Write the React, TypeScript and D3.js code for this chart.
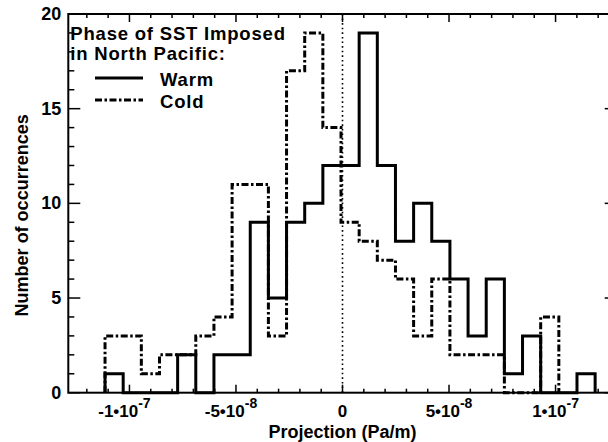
import React from "react";
import * as d3 from "d3";

// histogram counts, bins indexed from firstBin (bin 0 starts just left of zero)
const firstBin = -13;
const binOrigin = -0.07e-8;
const binWidth = 0.852e-8;
const warmCounts = [1, 0, 0, 0, 2, 0, 2, 2, 9, 5, 9, 10, 12, 12, 19, 12, 8, 10, 8, 6, 3, 6, 1, 3, 0, 0, 1];
const coldCounts = [3, 3, 1, 2, 2, 3, 4, 11, 11, 3, 17, 19, 14, 9, 8, 7, 6, 3, 6, 2, 2, 2, 0, 0, 4];

const xTicks = [-1e-7, -5e-8, 0, 5e-8, 1e-7];
const xTickBase = ["-1•10", "-5•10", "0", "5•10", "1•10"];
const xTickExp = ["-7", "-8", "", "-8", "-7"];
const yTicks = [0, 5, 10, 15, 20];

const W = 608;
const H = 442;
const left = 68.3;
const right = 616.7;
const top = 14;
const bottom = 392.7;
const font = "'Liberation Sans', Arial, Helvetica, sans-serif";

const x = d3.scaleLinear().domain([-1.287e-7, 1.287e-7]).range([left, right]);
const y = d3.scaleLinear().domain([0, 20]).range([bottom, top]);

function stepPath(counts: number[]) {
  const pts: [number, number][] = [];
  counts.forEach((c, i) => {
    const x0 = binOrigin + (firstBin + i) * binWidth;
    const x1 = x0 + binWidth;
    if (i === 0) pts.push([x0, 0]);
    pts.push([x0, c], [x1, c]);
    if (i === counts.length - 1) pts.push([x1, 0]);
  });
  return d3
    .line<[number, number]>()
    .x((d) => x(d[0]))
    .y((d) => y(d[1]))(pts) as string;
}

export default function App() {
  const xMinor = d3.range(-12, 13).map((k) => k * 1e-8);
  const yMinor = d3.range(0, 21);
  const ink = "#000";
  const dashDot = "7,2.5,2.5,2.5";

  return (
    <svg
      width={W}
      height={H}
      style={{ position: "absolute", left: 0, top: 0, background: "#fff" }}
      fontFamily={font}
    >
      {/* zero line */}
      <line x1={x(0)} x2={x(0)} y1={bottom} y2={top} stroke={ink} strokeWidth={1.6} strokeDasharray="1.6,3" />

      {/* histograms */}
      <path d={stepPath(coldCounts)} fill="none" stroke={ink} strokeWidth={3} strokeDasharray={dashDot} />
      <path d={stepPath(warmCounts)} fill="none" stroke={ink} strokeWidth={3} />

      {/* frame */}
      <rect x={left} y={top} width={right - left} height={bottom - top} fill="none" stroke={ink} strokeWidth={2} />

      {/* x ticks, bottom and top */}
      {xMinor.map((v, i) => {
        const major = Math.abs(Math.round(v / 1e-8)) % 5 === 0;
        const len = major ? 8 : 4;
        return (
          <g key={"xt" + i} stroke={ink} strokeWidth={1.5}>
            <line x1={x(v)} x2={x(v)} y1={bottom} y2={bottom - len} />
            <line x1={x(v)} x2={x(v)} y1={top} y2={top + len} />
          </g>
        );
      })}

      {/* y ticks, left and right */}
      {yMinor.map((v) => {
        const len = v % 5 === 0 ? 12 : 6;
        return (
          <g key={"yt" + v} stroke={ink} strokeWidth={1.5}>
            <line x1={left} x2={left + len} y1={y(v)} y2={y(v)} />
            <line x1={right} x2={right - len} y1={y(v)} y2={y(v)} />
          </g>
        );
      })}

      {/* y tick labels */}
      {yTicks.map((v) => (
        <text key={"yl" + v} x={left - 7} y={y(v) + 6} textAnchor="end" fontSize={18} fontWeight="bold">
          {v}
        </text>
      ))}

      {/* x tick labels */}
      {xTicks.map((v, i) => (
        <text key={"xl" + i} x={x(v) - (v < 0 ? 5 : 0)} y={417} textAnchor="middle" fontSize={17} fontWeight="bold">
          {xTickBase[i]}
          {xTickExp[i] && (
            <tspan fontSize={14} dy={-9}>
              {xTickExp[i]}
            </tspan>
          )}
        </text>
      ))}

      {/* axis titles */}
      <text x={x(0)} y={438} textAnchor="middle" fontSize={18} fontWeight="bold">
        Projection (Pa/m)
      </text>
      <text
        transform={`translate(28,${(top + bottom) / 2 + 12}) rotate(-90)`}
        textAnchor="middle"
        fontSize={18}
        fontWeight="bold"
      >
        Number of occurrences
      </text>

      {/* legend */}
      <g fontSize={18.5} fontWeight="bold" letterSpacing={0.8}>
        <text x={left + 2} y={40}>Phase of SST Imposed</text>
        <text x={left + 2} y={60}>in North Pacific:</text>
        <line x1={95} x2={143} y1={78} y2={78} stroke={ink} strokeWidth={3} />
        <text x={160} y={86}>Warm</text>
        <line x1={95} x2={143} y1={100} y2={100} stroke={ink} strokeWidth={3} strokeDasharray={dashDot} />
        <text x={160} y={108}>Cold</text>
      </g>
    </svg>
  );
}
